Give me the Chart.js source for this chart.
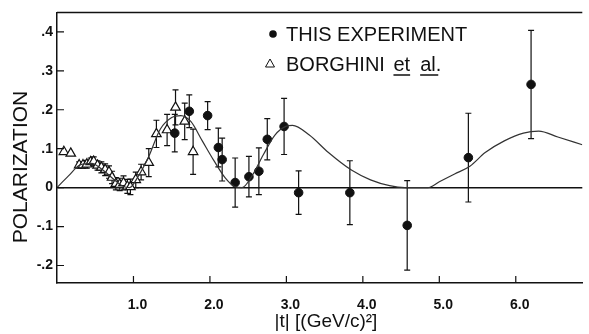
<!DOCTYPE html>
<html>
<head>
<meta charset="utf-8">
<script src="https://cdn.jsdelivr.net/npm/chart.js@4"></script>
<style>
  body { margin: 0; background: #fff; }
  #wrap { width: 589px; height: 334px; position: relative; }
</style>
</head>
<body>
<div id="wrap"><canvas id="polChart"></canvas></div>
<script>
'use strict';

// this experiment (filled circles)
const tThis = [1.54, 1.73, 1.97, 2.11, 2.16, 2.33, 2.51, 2.64, 2.75, 2.97, 3.16, 3.83, 4.58, 5.38, 6.20];
const pThis = [0.140, 0.196, 0.185, 0.103, 0.072, 0.013, 0.028, 0.042, 0.124, 0.157, -0.013, -0.013, -0.097, 0.077, 0.265];
const errThis = [0.048, 0.042, 0.036, 0.05, 0.055, 0.063, 0.052, 0.06, 0.053, 0.072, 0.056, 0.082, 0.115, 0.114, 0.139];

// Borghini et al. (open triangles)
const tBorg = [0.09, 0.18, 0.29, 0.34, 0.39, 0.44, 0.48, 0.53, 0.58, 0.63, 0.68, 0.72, 0.77, 0.82, 0.87, 0.92, 0.96, 1.03, 1.10, 1.20, 1.30, 1.44, 1.55, 1.67, 1.78];
const pBorg = [0.092, 0.088, 0.058, 0.058, 0.060, 0.066, 0.067, 0.057, 0.052, 0.046, 0.040, 0.026, 0.010, 0.008, 0.012, 0.003, 0.002, 0.020, 0.040, 0.064, 0.138, 0.148, 0.206, 0.170, 0.092];
const errBorg = [0, 0, 0.008, 0.008, 0.01, 0.01, 0.012, 0.012, 0.014, 0.015, 0.016, 0.016, 0.016, 0.016, 0.018, 0.018, 0.02, 0.02, 0.02, 0.036, 0.035, 0.04, 0.045, 0.047, 0.058];

// fitted curve
const tCurve = [0.0, 0.15, 0.3, 0.45, 0.6, 0.75, 0.85, 0.95, 1.05, 1.2, 1.35, 1.5, 1.62, 1.75, 1.9, 2.05, 2.2, 2.32, 2.42, 2.55, 2.7, 2.85, 3.0, 3.08, 3.3, 3.55, 3.85, 4.1, 4.35, 4.55, 4.85, 5.0, 5.2, 5.4, 5.6, 5.85, 6.1, 6.3, 6.55, 6.87];
const pCurve = [0.0, 0.03, 0.058, 0.062, 0.045, 0.02, 0.005, 0.0, 0.025, 0.08, 0.15, 0.18, 0.185, 0.17, 0.12, 0.07, 0.025, 0.003, 0.0, 0.03, 0.085, 0.135, 0.158, 0.16, 0.135, 0.09, 0.045, 0.02, 0.005, 0.0, 0.0, 0.015, 0.035, 0.055, 0.09, 0.12, 0.14, 0.145, 0.13, 0.11];

const xTicks = [1, 2, 3, 4, 5, 6];
const xTickLabels = ['1.0', '2.0', '3.0', '4.0', '5.0', '6.0'];
const yTicks = [-0.2, -0.1, 0, 0.1, 0.2, 0.3, 0.4];
const yTickLabels = ['-.2', '-.1', '0', '.1', '.2', '.3', '.4'];

const ink = '#111';

function pts(xs, ys) {
    return xs.map((x, i) => ({ x: x, y: ys[i] }));
}

const frame = {
    id: 'frame',
    beforeDatasetsDraw(chart) {
        const c = chart.ctx, xs = chart.scales.x, ys = chart.scales.y;
        c.save();
        c.strokeStyle = ink;
        c.lineWidth = 1.2;
        chart.data.datasets.forEach(ds => {
            if (!ds.errors) return;
            ds.data.forEach((p, i) => {
                const e = ds.errors[i];
                if (!e) return;
                const px = xs.getPixelForValue(p.x);
                const y1 = ys.getPixelForValue(p.y + e);
                const y2 = ys.getPixelForValue(p.y - e);
                c.beginPath();
                c.moveTo(px, y1); c.lineTo(px, y2);
                c.moveTo(px - 3, y1); c.lineTo(px + 3, y1);
                c.moveTo(px - 3, y2); c.lineTo(px + 3, y2);
                c.stroke();
            });
        });
        c.restore();
    },
    afterDraw(chart) {
        const c = chart.ctx, a = chart.chartArea;
        const xs = chart.scales.x, ys = chart.scales.y;
        c.save();
        c.strokeStyle = ink;
        c.lineWidth = 1.5;
        // top border
        c.beginPath();
        c.moveTo(a.left, a.top); c.lineTo(a.right, a.top);
        c.stroke();
        // inner ticks
        c.lineWidth = 1.2;
        c.beginPath();
        yTicks.forEach(v => {
            const py = ys.getPixelForValue(v);
            c.moveTo(a.left, py); c.lineTo(a.left + 7, py);
        });
        xTicks.forEach(v => {
            const px = xs.getPixelForValue(v);
            c.moveTo(px, a.bottom); c.lineTo(px, a.bottom - 7);
        });
        c.stroke();

        // y title
        c.fillStyle = ink;
        c.font = '21px "Liberation Sans", Arial, sans-serif';
        c.textAlign = 'center';
        c.textBaseline = 'middle';
        c.save();
        c.translate(21, 167);
        c.rotate(-Math.PI / 2);
        c.fillText('POLARIZATION', 0, 0);
        c.restore();

        // x title
        c.font = '19px "Liberation Sans", Arial, sans-serif';
        c.fillText('|t| [(GeV/c)²]', 326, 322);

        // legend
        c.textAlign = 'left';
        c.font = '20px "Liberation Sans", Arial, sans-serif';
        c.beginPath();
        c.arc(273, 34, 3.8, 0, Math.PI * 2);
        c.fill();
        c.fillText('THIS EXPERIMENT', 286, 35);
        c.lineWidth = 1;
        c.beginPath();
        c.moveTo(270, 59); c.lineTo(274.5, 67); c.lineTo(265.5, 67); c.closePath();
        c.stroke();
        c.fillText('BORGHINI', 286, 65);
        const x0 = 286 + c.measureText('BORGHINI ').width + 3;
        const wEt = c.measureText('et').width;
        c.fillText('et', x0, 65);
        const x1 = x0 + wEt + 10;
        const wAl = c.measureText('al.').width;
        c.fillText('al.', x1, 65);
        c.lineWidth = 1.3;
        c.beginPath();
        c.moveTo(x0, 75); c.lineTo(x0 + wEt, 75);
        c.moveTo(x1, 75); c.lineTo(x1 + wAl - 3, 75);
        c.stroke();
        c.restore();
    }
};

new Chart(document.getElementById('polChart'), {
    type: 'scatter',
    data: {
        datasets: [
            {
                type: 'line',
                label: 'fit',
                data: pts(tCurve, pCurve),
                borderColor: '#333',
                borderWidth: 1.2,
                pointRadius: 0,
                cubicInterpolationMode: 'monotone',
                fill: false
            },
            {
                label: 'THIS EXPERIMENT',
                data: pts(tThis, pThis),
                errors: errThis,
                pointStyle: 'circle',
                pointRadius: 4.3,
                backgroundColor: ink,
                borderColor: ink
            },
            {
                label: 'BORGHINI et al.',
                data: pts(tBorg, pBorg),
                errors: errBorg,
                pointStyle: 'triangle',
                pointRadius: 5.5,
                borderWidth: 1.2,
                backgroundColor: '#fff',
                borderColor: ink
            }
        ]
    },
    options: {
        responsive: true,
        maintainAspectRatio: false,
        animation: false,
        layout: { padding: { top: 9, right: 0, left: 0, bottom: 0 } },
        plugins: {
            legend: { display: false },
            tooltip: { enabled: false }
        },
        scales: {
            x: {
                type: 'linear',
                min: 0,
                max: 6.87,
                afterBuildTicks: s => { s.ticks = xTicks.map(v => ({ value: v })); },
                afterFit: s => { s.height = 51; },
                grid: { display: false },
                border: { display: true, color: ink, width: 1.5 },
                ticks: {
                    color: ink,
                    font: { family: '"Liberation Sans", Arial, sans-serif', size: 14, weight: 'bold' },
                    padding: 6,
                    labelOffset: 4,
                    maxRotation: 0,
                    callback: v => xTickLabels[xTicks.indexOf(v)]
                }
            },
            y: {
                min: -0.245,
                max: 0.45,
                afterBuildTicks: s => { s.ticks = yTicks.map(v => ({ value: v })); },
                afterFit: s => { s.width = 57; },
                grid: {
                    drawTicks: false,
                    color: c => Math.abs(c.tick.value) < 1e-9 ? ink : 'rgba(0,0,0,0)',
                    lineWidth: 1.5
                },
                border: { display: true, color: ink, width: 1.5 },
                ticks: {
                    color: ink,
                    font: { family: '"Liberation Sans", Arial, sans-serif', size: 14, weight: 'bold' },
                    padding: 4,
                    callback: v => {
                        const i = yTicks.findIndex(t => Math.abs(t - v) < 1e-9);
                        return i < 0 ? '' : yTickLabels[i];
                    }
                }
            }
        }
    },
    plugins: [frame]
});
</script>
</body>
</html>
